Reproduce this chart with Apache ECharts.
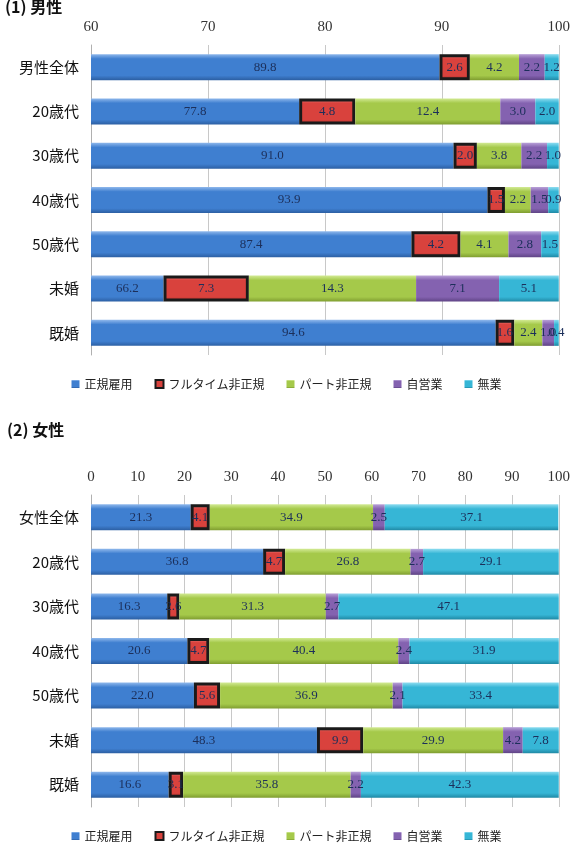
<!DOCTYPE html>
<html>
<head>
<meta charset="utf-8">
<script src="https://cdn.jsdelivr.net/npm/echarts@6/dist/echarts.min.js"></script>
<style>
html,body{margin:0;padding:0;background:#fff;}
#chart{width:573px;height:847px;}
</style>
</head>
<body>
<div id="chart"></div>
<script>
// 区分
var maleCats = ["男性全体", "20歳代", "30歳代", "40歳代", "50歳代", "未婚", "既婚"];
var femaleCats = ["女性全体", "20歳代", "30歳代", "40歳代", "50歳代", "未婚", "既婚"];
var seriesNames = ["正規雇用", "フルタイム非正規", "パート非正規", "自営業", "無業"];

// 男性 (%)
var maleRegular = [89.8, 77.8, 91.0, 93.9, 87.4, 66.2, 94.6];
var maleFull    = [2.6, 4.8, 2.0, 1.5, 4.2, 7.3, 1.6];
var malePart    = [4.2, 12.4, 3.8, 2.2, 4.1, 14.3, 2.4];
var maleSelf    = [2.2, 3.0, 2.2, 1.5, 2.8, 7.1, 1.0];
var maleNone    = [1.2, 2.0, 1.0, 0.9, 1.5, 5.1, 0.4];

// 女性 (%)
var femaleRegular = [21.3, 36.8, 16.3, 20.6, 22.0, 48.3, 16.6];
var femaleFull    = [4.1, 4.7, 2.6, 4.7, 5.6, 9.9, 3.1];
var femalePart    = [34.9, 26.8, 31.3, 40.4, 36.9, 29.9, 35.8];
var femaleSelf    = [2.5, 2.7, 2.7, 2.4, 2.1, 4.2, 2.2];
var femaleNone    = [37.1, 29.1, 47.1, 31.9, 33.4, 7.8, 42.3];

var maleData = [maleRegular, maleFull, malePart, maleSelf, maleNone];
var femaleData = [femaleRegular, femaleFull, femalePart, femaleSelf, femaleNone];

var baseColors = ["#3f7fd0", "#d9423d", "#a5c94a", "#8462b0", "#36b6d6"];
var lightColors = ["#8fb8ec", "#f08a86", "#d2ea94", "#b9a1d8", "#8ddcf0"];
var darkColors = ["#2c5fa3", "#a82c28", "#7f9d30", "#5f4485", "#2089a5"];

function barColor(i){
    return new echarts.graphic.LinearGradient(0,0,0,1,[
        {offset:0, color:lightColors[i]},
        {offset:0.18, color:baseColors[i]},
        {offset:0.82, color:baseColors[i]},
        {offset:1, color:darkColors[i]}
    ]);
}

var chart = echarts.init(document.getElementById("chart"));

function axisX(gridIndex, min, max){
    return {
        type:"value",
        gridIndex:gridIndex,
        position:"top",
        min:min,
        max:max,
        interval:10,
        axisLine:{show:false},
        axisTick:{show:false},
        splitLine:{lineStyle:{color:"#c8c8c8", width:1}},
        axisLabel:{
            color:"#333",
            fontFamily:"Liberation Serif",
            fontSize:15,
            margin:10
        }
    };
}

function axisY(gridIndex, cats){
    return {
        type:"category",
        gridIndex:gridIndex,
        inverse:true,
        data:cats,
        axisLine:{lineStyle:{color:"#b0b0b0", width:1}},
        axisTick:{show:false},
        axisLabel:{
            color:"#111",
            fontFamily:"Noto Sans CJK JP",
            fontSize:15,
            margin:12
        }
    };
}

var series = [];
function addSeries(data, axisIdx, stackName){
    for (var i = 0; i < seriesNames.length; i++) {
        var s = {
            name:seriesNames[i],
            type:"bar",
            stack:stackName,
            xAxisIndex:axisIdx,
            yAxisIndex:axisIdx,
            barWidth:26,
            itemStyle:{color:barColor(i)},
            label:{
                show:true,
                position:"inside",
                color:"#1c2f5a",
                fontFamily:"Liberation Serif",
                fontSize:13,
                formatter:function(p){ return p.value.toFixed(1); }
            },
            data:data[i]
        };
        if (i == 1) {
            s.itemStyle.borderColor = "#1a1a1a";
            s.itemStyle.borderWidth = 3;
        }
        series.push(s);
    }
}
addSeries(maleData, 0, "male");
addSeries(femaleData, 1, "female");

var legendBase = {
    data:seriesNames,
    icon:"rect",
    itemWidth:8,
    itemHeight:8,
    itemGap:22,
    left:"center",
    textStyle:{
        color:"#222",
        fontFamily:"Noto Sans CJK JP",
        fontSize:12
    }
};

option = {
    animation:false,
    title:[
        {
            text:"(1) 男性",
            left:0,
            top:-6,
            textStyle:{color:"#111", fontFamily:"Noto Sans CJK JP", fontSize:16, fontWeight:"bold"}
        },
        {
            text:"(2) 女性",
            left:2,
            top:417,
            textStyle:{color:"#111", fontFamily:"Noto Sans CJK JP", fontSize:16, fontWeight:"bold"}
        }
    ],
    legend:[
        Object.assign({}, legendBase, {top:373}),
        Object.assign({}, legendBase, {top:825})
    ],
    grid:[
        {left:91, right:9, top:45, height:310},
        {left:91, right:9, top:495, height:312}
    ],
    xAxis:[axisX(0, 60, 100), axisX(1, 0, 100)],
    yAxis:[axisY(0, maleCats), axisY(1, femaleCats)],
    series:series
};
chart.setOption(option);
</script>
</body>
</html>
